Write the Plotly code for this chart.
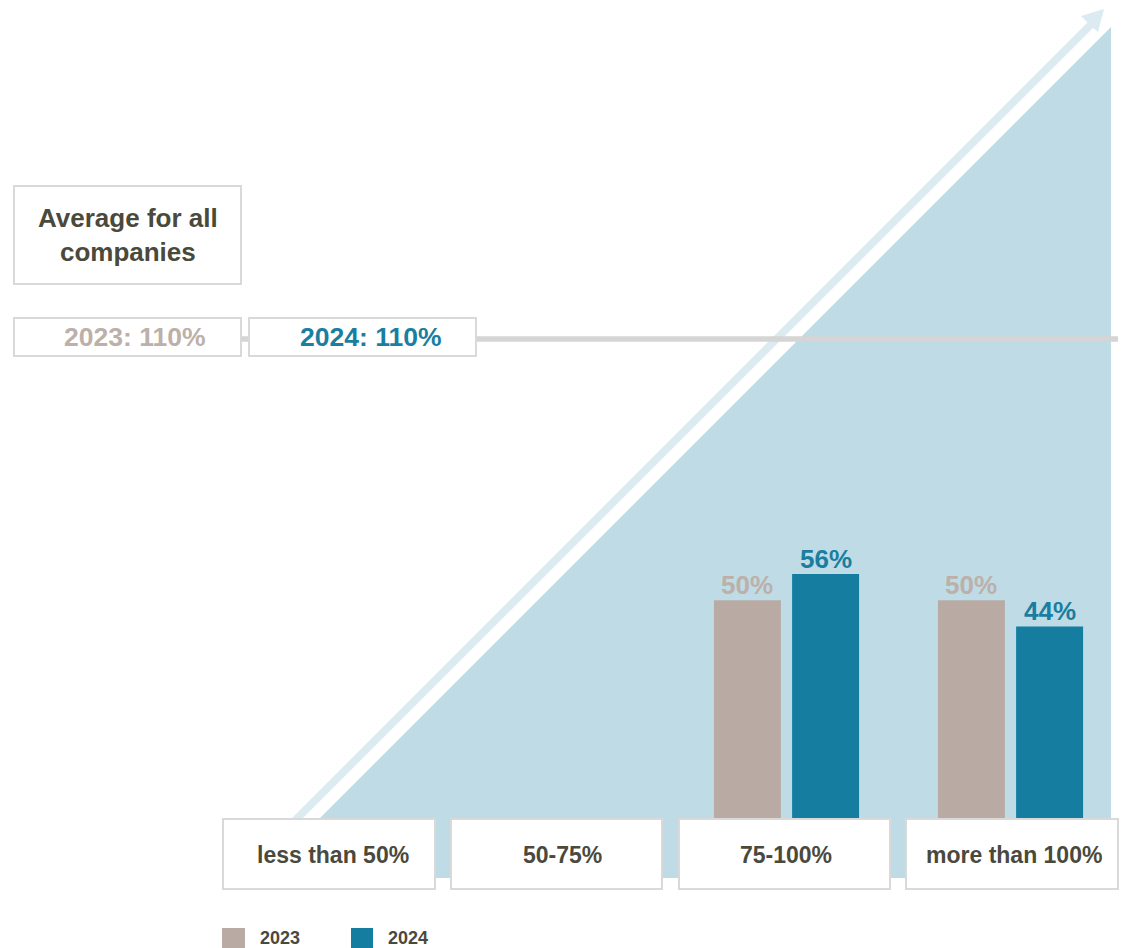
import plotly.graph_objects as go

# ---- data ----
categories = ["less than 50%", "50-75%", "75-100%", "more than 100%"]
years = ["2023", "2024"]
share_2023 = [0, 0, 50, 50]
share_2024 = [0, 0, 56, 44]
average_2023 = 110
average_2024 = 110
title_text = "Average for all<br>companies"

# ---- style ----
W, H = 1124, 948
C23 = "#b9aba4"
C24 = "#157ea0"
C23_TXT = "#bcb0a8"
C24_TXT = "#1a7ea0"
DARK = "#4a493c"
TRI = "#bfdbe5"
ARROW = "#dcebf1"
BORDER = "#d9d9d9"
LINE = "#d5d5d5"
FONT = "Liberation Sans, Arial, sans-serif"

BAR_W = 0.299
OFF23 = -0.324
OFF24 = 0.025


def X(px):
    return px / W


def Y(py):
    return 1 - py / H


def poly(points):
    return "M " + " L ".join(f"{X(x):.5f},{Y(y):.5f}" for x, y in points) + " Z"


fig = go.Figure()
fig.add_trace(go.Bar(
    x=categories, y=share_2023, name=years[0], width=BAR_W, offset=OFF23,
    marker=dict(color=C23, line=dict(width=0)),
    hoverinfo="skip", showlegend=False))
fig.add_trace(go.Bar(
    x=categories, y=share_2024, name=years[1], width=BAR_W, offset=OFF24,
    marker=dict(color=C24, line=dict(width=0)),
    hoverinfo="skip", showlegend=False))

shapes = []
# background triangle
shapes.append(dict(type="path", xref="paper", yref="paper", layer="below",
                   path=poly([(260, 878), (1111, 27), (1111, 878)]),
                   fillcolor=TRI, line=dict(width=0)))
# arrow
shapes.append(dict(type="path", xref="paper", yref="paper", layer="below",
                   path=poly([(292, 818), (1087.5, 22.5), (1081, 16), (1104, 9),
                              (1098, 32), (1093, 28), (303, 818)]),
                   fillcolor=ARROW, line=dict(width=0)))
# average line
shapes.append(dict(type="line", xref="paper", yref="y", layer="below",
                   x0=X(241), x1=X(1118), y0=average_2024, y1=average_2024,
                   line=dict(color=LINE, width=5.5)))


def box(x0, y0, x1, y1):
    shapes.append(dict(type="rect", xref="paper", yref="paper", layer="below",
                       x0=X(x0), x1=X(x1), y0=Y(y1), y1=Y(y0),
                       fillcolor="white", line=dict(color=BORDER, width=2)))


box(14, 186, 241, 284)
box(14, 318, 241, 356)
box(249, 318, 476, 356)
cat_boxes = [(223, 435), (451, 662), (679, 890), (906, 1118)]
for a, b in cat_boxes:
    box(a, 819, b, 889)

# legend squares
shapes.append(dict(type="rect", xref="paper", yref="paper", layer="above",
                   x0=X(222), x1=X(245), y0=Y(950), y1=Y(928),
                   fillcolor=C23, line=dict(width=0)))
shapes.append(dict(type="rect", xref="paper", yref="paper", layer="above",
                   x0=X(351), x1=X(373), y0=Y(950), y1=Y(928),
                   fillcolor=C24, line=dict(width=0)))

annotations = []


def ann(text, x, y, size, color):
    annotations.append(dict(text=f"<b>{text}</b>", x=X(x), y=Y(y),
                            xref="paper", yref="paper", showarrow=False,
                            xanchor="center", yanchor="middle",
                            font=dict(family=FONT, size=size, color=color)))


ann(title_text, 127.5, 235, 26, DARK)
ann(f"{years[0]}: {average_2023}%", 134, 337, 26.5, C23_TXT)
ann(f"{years[1]}: {average_2024}%", 370, 337, 26.5, C24_TXT)
label_px = [333.5, 562, 785.5, 1013.5]
for c, px in zip(categories, label_px):
    ann(c, px, 855, 23, DARK)
ann(years[0], 279.5, 938, 18, DARK)
ann(years[1], 408, 938, 18, DARK)

# value labels above bars, placed through the data axes
for vals, off, col in ((share_2023, OFF23, C23_TXT), (share_2024, OFF24, C24_TXT)):
    for i, v in enumerate(vals):
        if not v:
            continue
        annotations.append(dict(text=f"<b>{v}%</b>", x=i + off + BAR_W / 2, y=v,
                                xref="x", yref="y", showarrow=False,
                                xanchor="center", yanchor="bottom", yshift=-2,
                                font=dict(family=FONT, size=26, color=col)))

# axis scale: category i centred at 338.5 + 224 i px; 0 % at 818 px
px_per_cat = 224.0
x0_px = 338.5
ppu = 4.355
base_px = 818.0

fig.update_layout(
    width=W, height=H, margin=dict(l=0, r=0, t=0, b=0),
    paper_bgcolor="white", plot_bgcolor="rgba(0,0,0,0)",
    barmode="overlay",
    xaxis=dict(visible=False, type="category", categoryorder="array",
               categoryarray=categories,
               range=[(0 - x0_px) / px_per_cat, (W - x0_px) / px_per_cat],
               fixedrange=True),
    yaxis=dict(visible=False, range=[-(H - base_px) / ppu, base_px / ppu],
               fixedrange=True),
    shapes=shapes, annotations=annotations, showlegend=False,
)

fig.write_html("out.html", config={"displayModeBar": False},
               post_script="document.body.style.margin='0';")
